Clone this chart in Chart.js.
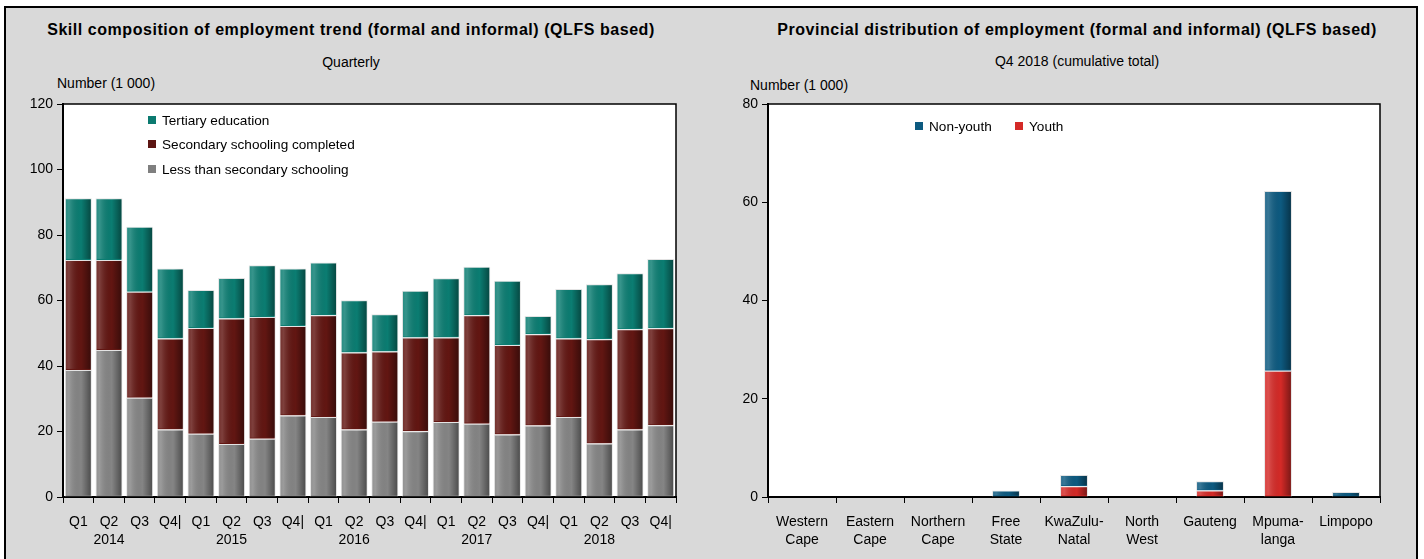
<!DOCTYPE html>
<html>
<head>
<meta charset="utf-8">
<script src="https://cdn.jsdelivr.net/npm/chart.js@4.4.1/dist/chart.umd.min.js"></script>
<style>
  body { margin: 0; width: 1424px; height: 559px; background: #fff; position: relative; overflow: hidden;
         font-family: 'Liberation Sans', Arial, sans-serif; color: #000; }
  .frame { position: absolute; left: 4px; top: 6px; width: 1414px; height: 570px; background: #d9d9d9;
           border: 2px solid #000; box-sizing: border-box; }
  .txt { position: absolute; white-space: nowrap; font-size: 14px; line-height: 16px; }
  .title { font-weight: bold; font-size: 16px; line-height: 18px; letter-spacing: 0.55px; transform: translateX(-50%); }
  .sub { transform: translateX(-50%); }
  .leg { position: absolute; font-size: 13.6px; line-height: 16px; white-space: nowrap; }
  .leg i { display: inline-block; width: 8px; height: 8px; margin-right: 6px; vertical-align: 1px; }
  canvas { position: absolute; top: 0; }
</style>
</head>
<body>
<div class="frame"></div>

<div class="txt title" style="left:351px; top:21px;">Skill composition of employment trend (formal and informal) (QLFS based)</div>
<div class="txt sub" style="left:351px; top:54px;">Quarterly</div>
<div class="txt" style="left:57px; top:75px;">Number (1 000)</div>

<div class="txt title" style="left:1077px; top:21px;">Provincial distribution of employment (formal and informal) (QLFS based)</div>
<div class="txt sub" style="left:1077px; top:53px;">Q4 2018 (cumulative total)</div>
<div class="txt" style="left:750px; top:77px;">Number (1 000)</div>

<canvas id="skillChart" width="700" height="559" style="left:0;"></canvas>
<canvas id="provChart" width="724" height="559" style="left:700px;"></canvas>

<div class="leg" style="left:148px; top:113px;"><i style="background:#0b7a70"></i>Tertiary education</div>
<div class="leg" style="left:148px; top:137px;"><i style="background:#5c1512"></i>Secondary schooling completed</div>
<div class="leg" style="left:148px; top:162px;"><i style="background:#7f7f7f"></i>Less than secondary schooling</div>

<div class="leg" style="left:915px; top:119px;"><i style="background:#0d5a80"></i>Non-youth</div>
<div class="leg" style="left:1015px; top:119px;"><i style="background:#d42a27"></i>Youth</div>

<script>
// quarterly skill composition, thousands
const quarterLabels = [
  'Q1', ['Q2', '2014'], 'Q3', 'Q4|',
  'Q1', ['Q2', '2015'], 'Q3', 'Q4|',
  'Q1', ['Q2', '2016'], 'Q3', 'Q4|',
  'Q1', ['Q2', '2017'], 'Q3', 'Q4|',
  'Q1', ['Q2', '2018'], 'Q3', 'Q4|'
];
const lessThanSecondary = [38.8, 44.9, 30.3, 20.6, 19.3, 16.2, 17.8, 24.9, 24.4, 20.6, 23.0, 20.1, 22.9, 22.4, 19.1, 21.8, 24.4, 16.3, 20.6, 21.9];
const secondaryCompleted = [33.6, 27.5, 32.4, 27.8, 32.3, 38.3, 37.2, 27.3, 31.1, 23.5, 21.4, 28.6, 25.8, 33.1, 27.3, 27.9, 24.0, 31.9, 30.6, 29.6];
const tertiary = [18.8, 18.8, 19.8, 21.4, 11.6, 12.4, 15.8, 17.6, 16.1, 16.0, 11.4, 14.3, 18.1, 14.8, 19.6, 5.6, 15.1, 16.8, 17.1, 21.2];
const skillTicks = [0, 20, 40, 60, 80, 100, 120];

// provincial distribution Q4 2018
const provinces = [
  ['Western', 'Cape'], ['Eastern', 'Cape'], ['Northern', 'Cape'], ['Free', 'State'],
  ['KwaZulu-', 'Natal'], ['North', 'West'], 'Gauteng', ['Mpuma-', 'langa'], 'Limpopo'
];
const youth = [0, 0, 0, 0, 2.2, 0, 1.3, 25.7, 0];
const nonYouth = [0, 0, 0, 1.3, 2.3, 0, 1.9, 36.6, 1.0];
const provTicks = [0, 20, 40, 60, 80];

Chart.defaults.font.family = "'Liberation Sans', Arial, sans-serif";
Chart.defaults.font.size = 14;
Chart.defaults.color = '#000';

// white plot area with thin frame on top/right
const plotFrame = {
  id: 'plotFrame',
  beforeDraw(chart) {
    const { ctx, chartArea: a } = chart;
    ctx.save();
    ctx.fillStyle = '#fff';
    ctx.fillRect(a.left, a.top, a.right - a.left, a.bottom - a.top);
    ctx.strokeStyle = '#000';
    ctx.lineWidth = 1.5;
    ctx.beginPath();
    ctx.moveTo(a.left, a.top);
    ctx.lineTo(a.right, a.top);
    ctx.lineTo(a.right, a.bottom);
    ctx.stroke();
    ctx.restore();
  }
};

// rough bevel shading on each bar
const bevel = {
  id: 'bevel',
  afterDatasetsDraw(chart) {
    const ctx = chart.ctx;
    chart.data.datasets.forEach((ds, i) => {
      chart.getDatasetMeta(i).data.forEach(bar => {
        const h = bar.base - bar.y;
        if (h <= 0.5) return;
        const l = bar.x - bar.width / 2;
        const g = ctx.createLinearGradient(l, 0, l + bar.width, 0);
        g.addColorStop(0, 'rgba(255,255,255,0.10)');
        g.addColorStop(0.15, 'rgba(255,255,255,0.18)');
        g.addColorStop(0.6, 'rgba(0,0,0,0)');
        g.addColorStop(1, 'rgba(0,0,0,0.45)');
        ctx.save();
        ctx.fillStyle = g;
        ctx.fillRect(l + 1, bar.y + 1, bar.width - 2, h - 2);
        ctx.restore();
      });
    });
  }
};

function axes(max, ticks, yWidth) {
  return {
    x: {
      stacked: true,
      afterFit: s => { s.height = 50; },
      grid: { display: true, drawOnChartArea: false, offset: true, color: '#000', tickLength: 6 },
      border: { color: '#000', width: 2 },
      ticks: { maxRotation: 0, autoSkip: false, padding: 10, font: { size: 14, lineHeight: 1.3 } }
    },
    y: {
      stacked: true,
      min: 0, max: max,
      afterBuildTicks: s => { s.ticks = ticks.map(v => ({ value: v })); },
      afterFit: s => { s.width = yWidth; },
      grid: { drawOnChartArea: false, color: '#000', tickLength: 6 },
      border: { color: '#000', width: 2 },
      ticks: { padding: 4 }
    }
  };
}

new Chart(document.getElementById('skillChart'), {
  type: 'bar',
  data: {
    labels: quarterLabels,
    datasets: [
      { label: 'Less than secondary schooling', data: lessThanSecondary, backgroundColor: '#858585' },
      { label: 'Secondary schooling completed', data: secondaryCompleted, backgroundColor: '#621612' },
      { label: 'Tertiary education', data: tertiary, backgroundColor: '#0b7d72' }
    ].map(d => Object.assign(d, { borderColor: 'rgba(225,225,225,0.9)', borderWidth: 1, categoryPercentage: 1, barPercentage: 0.88 }))
  },
  options: {
    responsive: false,
    animation: false,
    layout: { padding: { left: 23, right: 24, top: 104, bottom: 12 } },
    plugins: { legend: { display: false }, tooltip: { enabled: false } },
    scales: axes(120, skillTicks, 40)
  },
  plugins: [plotFrame, bevel]
});

new Chart(document.getElementById('provChart'), {
  type: 'bar',
  data: {
    labels: provinces,
    datasets: [
      { label: 'Youth', data: youth, backgroundColor: '#d42a27' },
      { label: 'Non-youth', data: nonYouth, backgroundColor: '#0d5a80' }
    ].map(d => Object.assign(d, { borderColor: 'rgba(225,225,225,0.9)', borderWidth: 1, categoryPercentage: 1, barPercentage: 0.41 }))
  },
  options: {
    responsive: false,
    animation: false,
    layout: { padding: { left: 28, right: 44, top: 104, bottom: 12 } },
    plugins: { legend: { display: false }, tooltip: { enabled: false } },
    scales: axes(80, provTicks, 40)
  },
  plugins: [plotFrame, bevel]
});
</script>
</body>
</html>
